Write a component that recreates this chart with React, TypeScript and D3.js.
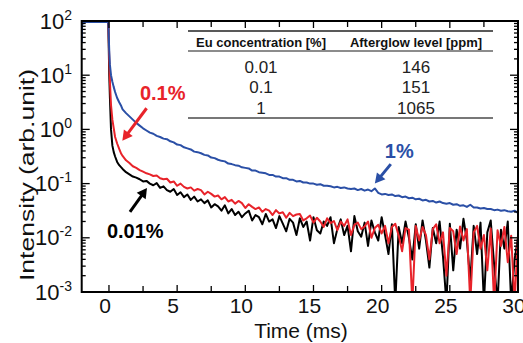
import React from 'react';
import * as d3 from 'd3';

// ---- data (log10 of intensity) ----
const headTime = [-2, -1.97, -1.9, -1.5, -1, -0.5, -0.05, 0.02, 0.07, 0.15, 0.25, 0.35, 0.45, 0.6, 0.75, 0.9];
const tailTime = d3.range(0, 117).map((i) => 1 + i * 0.25);

const blueHead = [1.6, 1.92, 1.98, 1.98, 1.98, 1.98, 1.98, 1.45, 1.19, 1.0, 0.88, 0.78, 0.69, 0.58, 0.5, 0.43];
const redHead = [1.9, 1.97, 1.98, 1.98, 1.98, 1.98, 1.98, 1.3, 0.88, 0.45, 0.18, 0.02, -0.14, -0.26, -0.36, -0.45];
const blackHead = [1.9, 1.97, 1.98, 1.98, 1.98, 1.98, 1.98, 1.0, 0.58, 0.0, -0.3, -0.42, -0.5, -0.6, -0.66, -0.7];

const blueTail = [
  0.37, 0.30, 0.24, 0.18,
  0.12, 0.07, 0.02, -0.02,
  -0.06, -0.08, -0.12, -0.14,
  -0.17, -0.18, -0.22, -0.24,
  -0.28, -0.29, -0.33, -0.35,
  -0.37, -0.41, -0.42, -0.44,
  -0.47, -0.48, -0.52, -0.53,
  -0.56, -0.58, -0.59, -0.63,
  -0.64, -0.66, -0.67, -0.70,
  -0.71, -0.72, -0.76, -0.76,
  -0.79, -0.80, -0.81, -0.84,
  -0.84, -0.87, -0.87, -0.90,
  -0.90, -0.93, -0.93, -0.96,
  -0.95, -0.98, -0.98, -1.00,
  -1.00, -1.02, -1.01, -1.04,
  -1.04, -1.05, -1.07, -1.06,
  -1.08, -1.07, -1.09, -1.10,
  -1.09, -1.12, -1.10, -1.13,
  -1.11, -1.14, -1.09, -1.17,
  -1.20, -1.19, -1.21, -1.20,
  -1.23, -1.22, -1.25, -1.24,
  -1.27, -1.26, -1.29, -1.28,
  -1.31, -1.30, -1.33, -1.32,
  -1.35, -1.33, -1.36, -1.37,
  -1.36, -1.39, -1.38, -1.41,
  -1.40, -1.43, -1.39, -1.44,
  -1.44, -1.46, -1.45, -1.47,
  -1.47, -1.49, -1.48, -1.50,
  -1.49, -1.51, -1.52, -1.50,
  -1.54,
];

const redTail = [
  -0.49, -0.57, -0.62, -0.68,
  -0.71, -0.75, -0.78, -0.81,
  -0.83, -0.86, -0.85, -0.90,
  -0.92, -0.91, -0.98, -0.96,
  -1.04, -1.00, -1.06, -1.09,
  -1.07, -1.13, -1.10, -1.12,
  -1.20, -1.15, -1.19, -1.24,
  -1.22, -1.29, -1.25, -1.33,
  -1.30, -1.37, -1.32, -1.36,
  -1.45, -1.38, -1.43, -1.47,
  -1.44, -1.52, -1.47, -1.50,
  -1.58, -1.49, -1.55, -1.53,
  -1.63, -1.54, -1.60, -1.57,
  -1.56, -1.68, -1.64, -1.59,
  -1.72, -1.63, -1.70, -1.80,
  -1.64, -1.73, -1.69, -1.86,
  -1.70, -1.78, -1.66, -1.95,
  -1.76, -1.72, -1.84, -1.79,
  -1.70, -2.00, -1.82, -1.76,
  -1.92, -1.78, -2.10, -1.80,
  -1.74, -1.96, -2.25, -1.82,
  -1.85, -3.20, -1.78, -2.05,
  -1.80, -1.95, -2.40, -1.84,
  -1.75, -2.10, -1.90, -2.70,
  -1.82, -1.88, -2.30, -1.79,
  -2.05, -1.84, -3.20, -1.90,
  -1.78, -2.20, -1.95, -2.60,
  -1.83, -3.20, -1.86, -2.15,
  -1.80, -2.45, -1.96, -3.20,
  -1.95,
];

const blackTail = [
  -0.73, -0.79, -0.83, -0.87,
  -0.89, -0.92, -0.96, -0.95,
  -1.00, -1.03, -0.99, -1.08,
  -1.05, -1.12, -1.15, -1.10,
  -1.21, -1.16, -1.25, -1.20,
  -1.30, -1.24, -1.33, -1.29,
  -1.36, -1.31, -1.44, -1.38,
  -1.42, -1.50, -1.40, -1.55,
  -1.47, -1.58, -1.52, -1.62,
  -1.55, -1.50, -1.68, -1.58,
  -1.62, -1.75, -1.56, -1.70,
  -1.66, -1.82, -1.60, -1.74,
  -1.88, -1.65, -1.72, -1.95,
  -1.64, -1.80, -1.70, -2.05,
  -1.62, -1.86, -1.92, -1.70,
  -1.78, -1.62, -2.10, -1.84,
  -1.66, -1.95, -1.78, -2.25,
  -1.60, -1.88, -1.98, -1.72,
  -2.15, -1.68, -1.90, -2.05,
  -1.62, -1.95, -2.30, -1.75,
  -3.20, -1.80, -2.10, -1.70,
  -2.00, -2.40, -1.75, -2.20,
  -1.68, -2.05, -2.55, -1.82,
  -2.10, -1.70, -2.35, -3.20,
  -1.74, -2.60, -1.85, -2.20,
  -1.65, -2.05, -2.80, -1.78,
  -2.30, -1.72, -3.20, -1.90,
  -1.68, -2.50, -3.20, -1.85,
  -2.20, -1.70, -3.20, -2.40,
  -2.00,
];

const seriesNames = ['0.01%', '0.1%', '1%'];
const seriesColors = ['#000000', '#e8232a', '#2a4fa6'];

const xTicksMajor = [0, 5, 10, 15, 20, 25, 30];
const xTicksMinor = [2.5, 7.5, 12.5, 17.5, 22.5, 27.5];
const yDecades = [-3, -2, -1, 0, 1, 2];

const tableHeaders = ['Eu concentration [%]', 'Afterglow level [ppm]'];
const tableConc = ['0.01', '0.1', '1'];
const tableLevel = ['146', '151', '1065'];

// annotations in data units: [label t, label log10], arrow tail, arrow tip
const annText = ['0.01%', '0.1%', '1%'];
const annLabel = [[-0.15, -2.0], [2.27, 0.54], [20.23, -0.53]];
const annTail = [[1.54, -1.52], [2.76, 0.39], [20.67, -0.64]];
const annTip = [[2.79, -1.08], [0.98, -0.21], [19.5, -1.0]];

const W = 523, H = 343;
const L = 81.7, R = 518, T = 21, B = 292;
const FONT = "'Liberation Sans', Arial, Helvetica, sans-serif";

export default function App() {
  const x = d3.scaleLinear().domain([-2, 30]).range([L, R]);
  const y = d3.scaleLog().domain([1e-3, 1e2]).range([B, T]);

  const time = headTime.concat(tailTime);
  const logs = [blackHead.concat(blackTail), redHead.concat(redTail), blueHead.concat(blueTail)];
  const line = d3
    .line<[number, number]>()
    .x((d) => x(d[0]))
    .y((d) => y(Math.pow(10, d[1])));

  const minor: number[] = [];
  yDecades.slice(0, -1).forEach((k) => {
    for (let m = 2; m <= 9; m++) minor.push(m * Math.pow(10, k));
  });

  const arrow = (i: number) => {
    const x1 = x(annTail[i][0]), y1 = y(Math.pow(10, annTail[i][1]));
    const x2 = x(annTip[i][0]), y2 = y(Math.pow(10, annTip[i][1]));
    const dx = x2 - x1, dy = y2 - y1;
    const len = Math.hypot(dx, dy);
    const ux = dx / len, uy = dy / len;
    const hl = 10, hw = 5.5;
    const bx = x2 - ux * hl, by = y2 - uy * hl;
    const pts = [
      [x2, y2],
      [bx - uy * hw, by + ux * hw],
      [bx + uy * hw, by - ux * hw],
    ];
    return (
      <g key={'arr' + i}>
        <line x1={x1} y1={y1} x2={bx + ux * 1} y2={by + uy * 1} stroke={seriesColors[i]} strokeWidth={3} />
        <polygon points={pts.map((p) => p.join(',')).join(' ')} fill={seriesColors[i]} />
      </g>
    );
  };

  return (
    <svg width={W} height={H} style={{ position: 'absolute', left: 0, top: 0, background: '#fff' }} fontFamily={FONT}>
      <defs>
        <clipPath id="plotclip">
          <rect x={L} y={T} width={R - L} height={B - T} />
        </clipPath>
      </defs>

      {/* table */}
      <g>
        <line x1={188} x2={493} y1={31} y2={31} stroke="#222" strokeWidth={1.6} />
        <line x1={188} x2={493} y1={51} y2={51} stroke="#666" strokeWidth={1.3} />
        <line x1={188} x2={493} y1={118} y2={118} stroke="#777" strokeWidth={1.8} />
        {tableHeaders.map((h, i) => (
          <text key={h} x={i === 0 ? 261 : 416} y={46.5} fontSize={13} fontWeight="bold" textAnchor="middle" fill="#111">
            {h}
          </text>
        ))}
        {tableConc.map((c, i) => (
          <text key={'c' + i} x={261} y={72.5 + i * 20.5} fontSize={17} textAnchor="middle" fill="#222">
            {c}
          </text>
        ))}
        {tableLevel.map((c, i) => (
          <text key={'l' + i} x={416} y={72.5 + i * 20.5} fontSize={17} textAnchor="middle" fill="#222">
            {c}
          </text>
        ))}
      </g>

      {/* data */}
      <g clipPath="url(#plotclip)">
        {logs.map((s, k) => (
          <path
            key={seriesNames[k]}
            d={line(time.map((t, i) => [t, s[i]] as [number, number])) || ''}
            fill="none"
            stroke={seriesColors[k]}
            strokeWidth={2}
            strokeLinejoin="round"
          />
        ))}
      </g>

      {/* ticks */}
      <g stroke="#000" strokeWidth={1.3}>
        {xTicksMajor.map((t) => (
          <g key={'xt' + t}>
            <line x1={x(t)} x2={x(t)} y1={B} y2={B - 7} />
            <line x1={x(t)} x2={x(t)} y1={T} y2={T + 7} />
          </g>
        ))}
        {xTicksMinor.map((t) => (
          <g key={'xm' + t}>
            <line x1={x(t)} x2={x(t)} y1={B} y2={B - 6} />
            <line x1={x(t)} x2={x(t)} y1={T} y2={T + 6} />
          </g>
        ))}
        {yDecades.map((k) => (
          <g key={'yt' + k}>
            <line x1={L} x2={L + 8} y1={y(Math.pow(10, k))} y2={y(Math.pow(10, k))} />
            <line x1={R} x2={R - 8} y1={y(Math.pow(10, k))} y2={y(Math.pow(10, k))} />
          </g>
        ))}
        {minor.map((v, i) => (
          <g key={'ym' + i}>
            <line x1={L} x2={L + 4} y1={y(v)} y2={y(v)} />
            <line x1={R} x2={R - 4} y1={y(v)} y2={y(v)} />
          </g>
        ))}
      </g>

      {/* frame */}
      <rect x={L} y={T} width={R - L} height={B - T} fill="none" stroke="#000" strokeWidth={2} />

      {/* tick labels */}
      {yDecades.map((k) => (
        <text key={'yl' + k} x={72} y={y(Math.pow(10, k)) + 7.5} fontSize={22} textAnchor="end" fill="#111">
          10
          <tspan fontSize={14} dy={-9}>
            {String(k)}
          </tspan>
        </text>
      ))}
      {xTicksMajor.map((t) => (
        <text key={'xl' + t} x={x(t) - 4} y={313} fontSize={21} textAnchor="middle" fill="#111">
          {t}
        </text>
      ))}

      {/* axis titles */}
      <text x={301} y={338} fontSize={21} textAnchor="middle" fill="#111">
        Time (ms)
      </text>
      <text
        transform="translate(33.5,175) rotate(-90)"
        fontSize={21}
        textAnchor="middle"
        fill="#111"
        textLength={212}
        lengthAdjust="spacingAndGlyphs"
      >
        Intensity (arb.unit)
      </text>

      {/* annotations */}
      {annText.map((a, i) => arrow(i))}
      {annText.map((a, i) => (
        <text
          key={'at' + i}
          x={x(annLabel[i][0])}
          y={y(Math.pow(10, annLabel[i][1]))}
          fontSize={20}
          fontWeight="bold"
          fill={seriesColors[i]}
        >
          {a}
        </text>
      ))}
    </svg>
  );
}
